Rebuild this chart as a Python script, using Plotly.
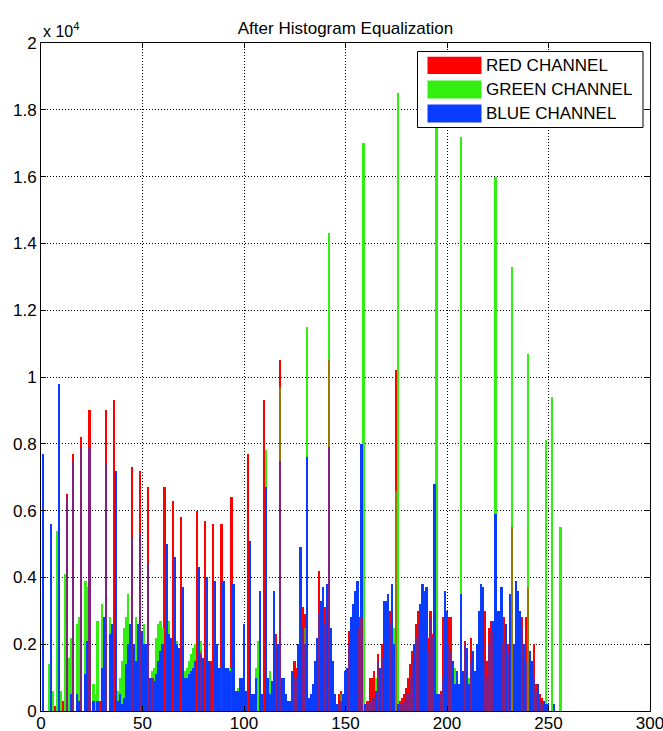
import plotly.graph_objects as go

# Histogram bins (intensity levels 1..256)
x_bins = list(range(1, 257))

# Pixel counts per bin, rows of 16 bins (row start noted)
red_counts = [
    0, 0, 0, 0, 0, 0, 150, 0, 0, 0, 300, 0, 6500, 0, 0, 7700,            # 1
    0, 0, 0, 8200, 0, 0, 0, 9000, 0, 0, 0, 0, 300, 0, 0, 9000,            # 17
    0, 0, 0, 9300, 0, 0, 0, 0, 0, 0, 0, 0, 7300, 0, 0, 0,                 # 33
    7200, 0, 0, 0, 6700, 0, 1000, 0, 0, 0, 0, 0, 6700, 0, 0, 0,           # 49
    6300, 0, 0, 0, 5800, 0, 0, 0, 0, 0, 0, 0, 6000, 0, 1800, 0,           # 65
    5700, 0, 0, 1500, 5600, 0, 0, 0, 5600, 0, 0, 0, 0, 6400, 0, 0,        # 81
    0, 0, 0, 0, 0, 7700, 0, 0, 0, 0, 0, 0, 0, 9300, 0, 0,                 # 97
    0, 0, 0, 2300, 0, 10500, 0, 0, 0, 0, 0, 0, 1500, 1300, 0, 0,          # 113
    3100, 2900, 0, 0, 0, 0, 0, 0, 4200, 0, 0, 3100, 0, 10500, 0, 0,       # 129
    0, 0, 500, 600, 0, 0, 0, 2400, 0, 0, 0, 0, 2800, 2800, 0, 0,          # 145
    300, 1000, 1000, 1200, 0, 1700, 0, 2000, 0, 0, 0, 3000, 0, 0, 10200, 0,  # 161
    300, 400, 500, 700, 1000, 1400, 1800, 0, 2600, 3000, 0, 0, 0, 0, 2200, 3000,  # 177
    2300, 0, 0, 0, 600, 2800, 0, 0, 2800, 2800, 0, 0, 0, 0, 0, 0,         # 193
    2100, 0, 0, 2200, 0, 0, 0, 0, 0, 0, 3000, 1500, 2500, 2700, 0, 0,     # 209
    0, 0, 0, 2800, 0, 2000, 0, 5500, 0, 0, 0, 0, 2800, 0, 2800, 3700,     # 225
    0, 0, 2000, 800, 0, 500, 400, 0, 0, 0, 0, 0, 0, 0, 0, 0,              # 241
]

green_counts = [
    0, 0, 0, 1400, 0, 600, 0, 5400, 0, 600, 0, 4100, 0, 1600, 2200, 0,    # 1
    0, 2600, 2800, 0, 0, 3900, 3700, 0, 0, 800, 500, 2700, 0, 3200, 1500, 0,  # 17
    0, 2800, 0, 0, 0, 600, 1000, 1500, 2500, 2800, 3500, 0, 0, 0, 2800, 0,    # 33
    0, 0, 2600, 0, 0, 0, 1200, 1300, 2200, 2600, 2700, 2500, 0, 0, 2700, 0,   # 49
    0, 0, 2100, 0, 0, 0, 1200, 1300, 1500, 1700, 1900, 2000, 0, 0, 2100, 0,   # 65
    0, 0, 0, 0, 0, 0, 0, 0, 0, 0, 0, 0, 1300, 0, 0, 0,                    # 81
    700, 0, 0, 0, 0, 0, 0, 0, 0, 1300, 2100, 0, 0, 0, 7800, 0,            # 97
    1200, 0, 0, 0, 0, 9700, 0, 0, 0, 0, 0, 0, 0, 0, 0, 0,                 # 113
    0, 2500, 11500, 0, 0, 0, 0, 0, 0, 0, 0, 0, 0, 14300, 0, 0,            # 129
    0, 0, 0, 500, 0, 0, 0, 0, 0, 0, 0, 0, 0, 0, 17000, 0,                 # 145
    0, 0, 0, 0, 1000, 0, 0, 0, 0, 0, 0, 0, 0, 2500, 6600, 18500,          # 161
    0, 0, 0, 0, 0, 0, 0, 0, 0, 0, 0, 0, 0, 0, 0, 0,                       # 177
    0, 0, 18800, 0, 0, 0, 0, 0, 0, 0, 0, 1300, 0, 0, 17200, 0,            # 193
    0, 0, 1000, 0, 0, 0, 0, 0, 0, 0, 0, 0, 0, 0, 0, 16000,                # 209
    0, 0, 0, 0, 0, 0, 0, 13300, 0, 0, 0, 0, 0, 0, 0, 10700,               # 225
    0, 0, 0, 0, 0, 0, 0, 0, 8100, 0, 0, 9400, 0, 0, 0, 5500,              # 241
]

blue_counts = [
    7700, 0, 0, 0, 5600, 0, 0, 0, 9800, 0, 0, 0, 6400, 0, 500, 7500,      # 1
    0, 500, 300, 7900, 0, 1100, 2100, 7900, 0, 300, 0, 300, 0, 1300, 2800, 7400,  # 17
    0, 2300, 2600, 0, 7200, 300, 500, 200, 400, 1400, 2000, 2600, 5200, 2000, 1500, 2600,  # 33
    5300, 2400, 2000, 2000, 4400, 1000, 1000, 900, 1100, 1500, 1800, 2000, 0, 5000, 2300, 2200,  # 49
    0, 4600, 2000, 1900, 0, 3700, 1000, 1000, 1100, 1200, 1300, 1500, 0, 4300, 1700, 1600,  # 65
    0, 4000, 1500, 1400, 0, 3900, 2000, 1300, 0, 3900, 1300, 1300, 1200, 0, 3800, 600,  # 81
    600, 1000, 1000, 2600, 600, 0, 5100, 500, 500, 1000, 0, 3600, 500, 0, 6700, 1000,  # 97
    500, 900, 3600, 2000, 2000, 7500, 1000, 1000, 500, 300, 300, 1200, 1000, 1000, 2000, 4900,  # 113
    2500, 2000, 7600, 400, 500, 800, 1500, 2200, 2900, 3300, 3700, 2600, 3800, 7900, 2500, 1500,  # 129
    500, 200, 200, 300, 500, 1200, 1300, 2000, 2800, 3200, 3600, 3900, 2500, 8000, 0, 200,  # 145
    200, 300, 400, 400, 600, 1500, 1300, 1600, 3300, 3300, 3500, 2600, 3800, 2000, 0, 200,  # 161
    200, 200, 300, 500, 500, 1000, 1500, 2000, 2200, 2600, 3200, 3800, 3600, 3700, 1800, 2800,  # 177
    2200, 6800, 500, 500, 500, 1000, 3600, 3000, 2000, 1800, 1500, 800, 1200, 800, 3500, 1200,  # 193
    2000, 1900, 800, 1500, 1800, 1200, 2000, 3000, 3800, 3700, 1500, 1000, 2000, 2400, 2700, 5900,  # 209
    3000, 3000, 3700, 2000, 2600, 1700, 3500, 0, 2000, 3900, 3600, 3000, 2500, 2000, 1500, 0,  # 225
    1800, 1500, 1000, 600, 800, 300, 250, 300, 200, 200, 0, 0, 200, 0, 0, 0,  # 241
]

assert len(red_counts) == len(green_counts) == len(blue_counts) == len(x_bins)

channel_names = ["RED CHANNEL", "GREEN CHANNEL", "BLUE CHANNEL"]
channel_colors = ["#ff0000", "#33ee11", "#0a3cff"]
x_ticks = [0, 50, 100, 150, 200, 250, 300]
y_ticks = [0, 2000, 4000, 6000, 8000, 10000, 12000, 14000, 16000, 18000, 20000]
y_tick_labels = ["0", "0.2", "0.4", "0.6", "0.8", "1", "1.2", "1.4", "1.6", "1.8", "2"]

FONT = "Liberation Sans, Arial, sans-serif"
BAR_W = 0.85


def mix(c1, c2):
    a = [int(c1[i:i + 2], 16) for i in (1, 3, 5)]
    b = [int(c2[i:i + 2], 16) for i in (1, 3, 5)]
    return "#" + "".join("%02x" % ((p + q) // 2) for p, q in zip(a, b))


def overlap(a, b):
    return [min(p, q) if (p > 0 and q > 0) else 0 for p, q in zip(a, b)]


fig = go.Figure()
channels = [red_counts, green_counts, blue_counts]
for name, counts, color in zip(channel_names, channels, channel_colors):
    fig.add_trace(go.Bar(
        x=x_bins, y=counts, name=name, width=BAR_W,
        marker=dict(color=color, line=dict(width=0)),
        showlegend=False,
    ))

# where red shares a bin with another channel, the shared part shows mixed
for i, j in [(0, 1), (0, 2)]:
    fig.add_trace(go.Bar(
        x=x_bins, y=overlap(channels[i], channels[j]), width=BAR_W,
        marker=dict(color=mix(channel_colors[i], channel_colors[j]),
                    line=dict(width=0)),
        showlegend=False, hoverinfo="skip",
    ))

axis_common = dict(
    showline=True, linecolor="black", linewidth=1, mirror="ticks",
    ticks="inside", ticklen=5, tickcolor="black", automargin=False,
    showgrid=True, gridcolor="black", gridwidth=1, griddash="1px,2px",
    zeroline=False, tickfont=dict(family=FONT, size=17, color="black"),
    ticklabeloverflow="allow",
)

fig.update_layout(
    width=663, height=731,
    margin=dict(l=41, r=13, t=43, b=20, autoexpand=False),
    paper_bgcolor="white", plot_bgcolor="white",
    barmode="overlay", bargap=0,
    title=dict(text="After Histogram Equalization", x=0.5, xref="paper",
               y=1 - 28 / 731, yanchor="middle",
               font=dict(family=FONT, size=17, color="black")),
    xaxis=dict(range=[0, 300], tickvals=x_ticks, ticklabelstandoff=-3,
               **axis_common),
    yaxis=dict(range=[0, 20000], tickvals=y_ticks, ticktext=y_tick_labels,
               **axis_common),
)

# exponent label
fig.add_annotation(xref="paper", yref="paper", x=0, y=1, xanchor="left",
                   yanchor="bottom", yshift=1, showarrow=False,
                   text="x 10<sup>4</sup>",
                   font=dict(family=FONT, size=16, color="black"))


# legend box drawn in the MATLAB style
def px_x(px):
    return (px - 41) / 609.0


def px_y(py):
    return (711 - py) / 668.0


fig.add_shape(type="rect", xref="paper", yref="paper", layer="above",
              x0=px_x(417.5), x1=px_x(643), y0=px_y(127.5), y1=px_y(51.5),
              line=dict(color="black", width=1), fillcolor="white")
rows = [(56.7, 74.0), (80.5, 98.5), (104.5, 122.5)]
for (top, bot), name, color in zip(rows, channel_names, channel_colors):
    fig.add_shape(type="rect", xref="paper", yref="paper", layer="above",
                  x0=px_x(427.5), x1=px_x(481.5), y0=px_y(bot), y1=px_y(top),
                  line=dict(width=0), fillcolor=color)
    fig.add_annotation(xref="paper", yref="paper", x=px_x(484),
                       y=px_y((top + bot) / 2), xanchor="left",
                       yanchor="middle", showarrow=False, text=name,
                       font=dict(family=FONT, size=17, color="black"))

fig.write_html("out.html",
               config={"displayModeBar": False},
               post_script="document.body.style.margin='0';"
                           "document.body.style.overflow='hidden';")
